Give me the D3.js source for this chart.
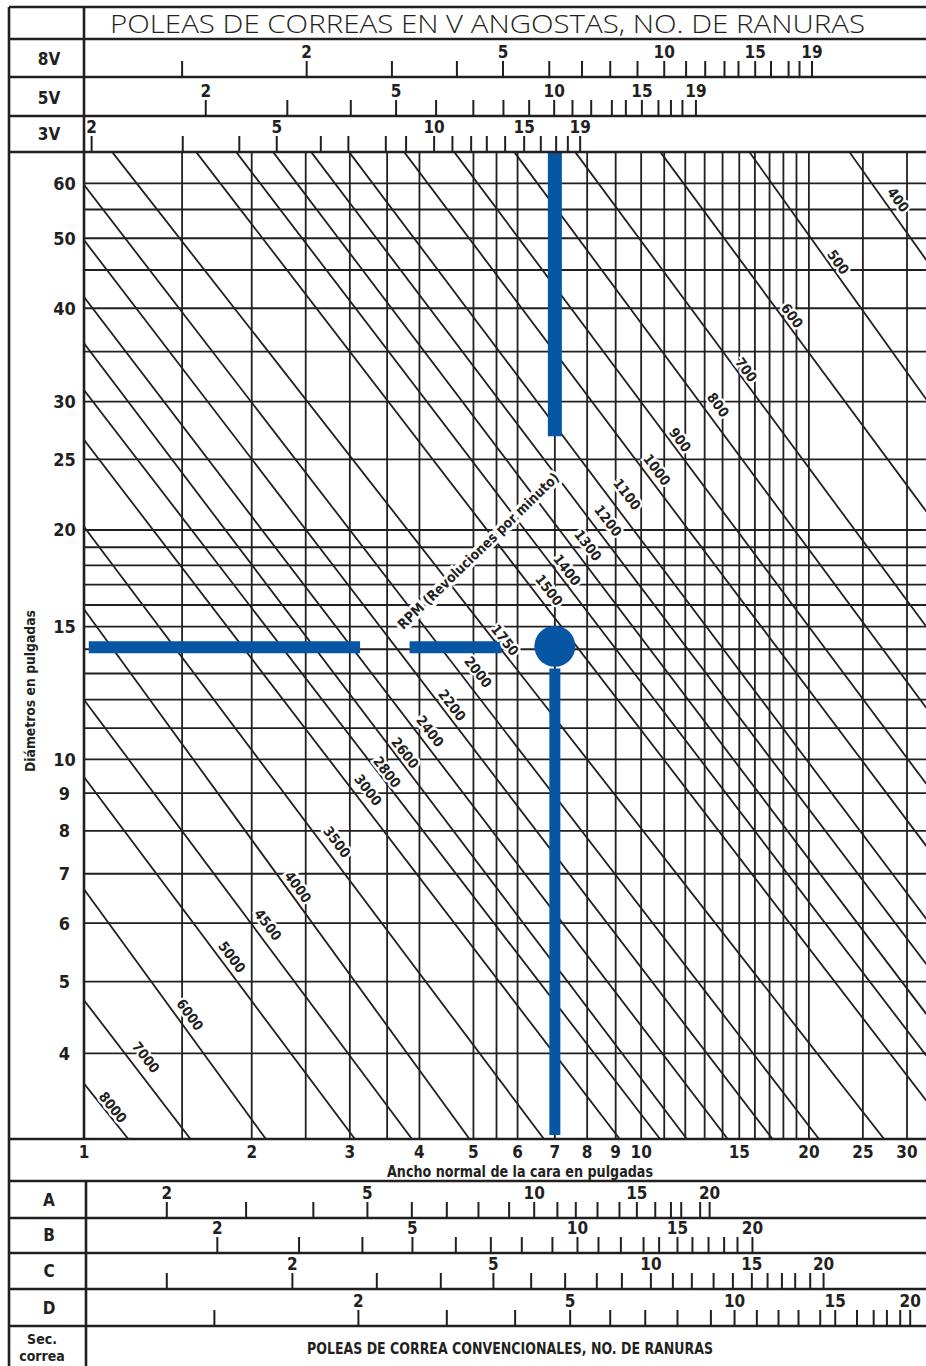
<!DOCTYPE html>
<html>
<head>
<meta charset="utf-8">
<title>Poleas de correas en V</title>
<script src="https://cdn.jsdelivr.net/npm/d3@7"></script>
<style>
  body { margin: 0; background: #fff; }
  svg text { font-family: "Liberation Sans Narrow", "DejaVu Sans Condensed", "Arial Narrow", sans-serif; font-weight: bold; fill: #231f20; }
</style>
</head>
<body>
<script>
// face width (in) along the bottom, pulley diameter (in) up the side
const widthLabels = [1, 2, 3, 4, 5, 6, 7, 8, 9, 10, 15, 20, 25, 30];
const widthGrid = [1, 1.5, 2, 2.5, 3, 3.5, 4, 5, 5.5, 6, 7, 8, 9, 10, 11, 12, 13, 14, 15, 16, 17, 18, 19, 20, 25, 30];
const diameterLabels = [60, 50, 40, 30, 25, 20, 15, 10, 9, 8, 7, 6, 5, 4];
const diameterGrid = [60, 55, 50, 45, 40, 35, 30, 25, 20, 19, 18, 17, 16, 15, 14, 13, 12, 11, 10, 9, 8, 7, 6, 5, 4];

// rpm lines: where each one enters and leaves the chart, [width, diameter]
const rpmValues = [8000, 7000, 6000, 5000, 4500, 4000, 3500, 3000, 2800, 2600, 2400, 2200, 2000,
                   1750, 1500, 1400, 1300, 1200, 1100, 1000, 900, 800, 700, 600, 500, 400];
const rpmStart = [[1, 3.64], [1, 4.72], [1, 6.67], [1, 9.46], [1, 12.0], [1, 15.8], [1, 20.2], [1, 26.6],
                  [1, 31.1], [1, 35.9], [1, 41.4], [1, 49.7], [1, 59.7],
                  [1.123, 66.6], [1.589, 66.6], [1.875, 66.6], [2.184, 66.6], [2.556, 66.6], [2.99, 66.6],
                  [3.754, 66.6], [4.617, 66.6], [5.916, 66.6], [7.612, 66.6], [10.82, 66.6], [15.63, 66.6], [23.63, 66.6]];
const rpmEnd = [[1.202, 3.06], [1.554, 3.06], [2.122, 3.06], [3.066, 3.06], [3.881, 3.06], [4.923, 3.06],
                [6.697, 3.06], [9.158, 3.06], [10.82, 3.06], [12.09, 3.06], [14.31, 3.06], [17.22, 3.06], [20.87, 3.06],
                [27.31, 3.06], [32.5, 3.45], [32.5, 3.97], [32.5, 4.52], [32.5, 5.28], [32.5, 6.08],
                [32.5, 7.63], [32.5, 9.26], [32.5, 11.7], [32.5, 15.0], [32.5, 21.2], [32.5, 30.2], [32.5, 46.5]];
// where each rpm number is written, [width, diameter]
const rpmLabelAt = [[1.127, 3.38], [1.292, 3.95], [1.55, 4.51], [1.844, 5.40], [2.14, 5.97], [2.422, 6.72],
                    [2.846, 7.73], [3.235, 9.09], [3.499, 9.61], [3.77, 10.2], [4.18, 10.9], [4.578, 11.8],
                    [5.098, 13.06], [5.70, 14.4], [6.836, 16.73], [7.364, 17.76], [8.031, 19.11], [8.726, 20.6],
                    [9.438, 22.4], [10.68, 24.2], [11.75, 26.6], [13.75, 29.7], [15.44, 33.1], [18.66, 39.1],
                    [22.58, 46.2], [28.93, 56.8]];
const rpmTitleAt = [5.1, 18.8];

// number of grooves -> face width (in)
const grooves8V = [1.50, 2.51, 3.57, 4.67, 5.65, 6.84, 7.83, 8.80, 9.85, 11.0, 12.04, 13.03, 14.11, 14.95, 16.02, 17.10, 18.39, 19.24, 20.26];
const grooves5V = [1.654, 2.317, 3.012, 3.632, 4.285, 4.998, 5.66, 6.295, 6.98, 7.529, 8.134, 8.86, 9.387, 10.03, 10.74, 11.31, 11.86, 12.54];
const grooves3V = [1.032, 1.504, 1.90, 2.218, 2.661, 2.982, 3.481, 3.785, 4.25, 4.584, 4.953, 5.284, 5.70, 6.166, 6.605, 7.037, 7.386, 7.771];
const groovesA = [1.408, 1.954, 2.58, 3.226, 3.876, 4.479, 5.105, 5.794, 6.427, 7.074, 7.633, 8.349, 9.142, 9.824, 10.60, 11.31, 11.80, 12.76, 13.27];
const groovesB = [1.735, 2.432, 3.16, 3.886, 4.649, 5.373, 6.106, 6.93, 7.686, 8.383, 9.196, 10.10, 10.77, 11.62, 12.36, 13.21, 14.09, 14.89, 15.84];
const groovesC = [1.408, 2.366, 3.354, 4.369, 5.43, 6.347, 7.304, 8.325, 9.235, 10.41, 11.40, 12.33, 13.49, 14.61, 15.80, 16.86, 17.89, 18.90, 20.11, 21.25];
const groovesD = [1.714, 3.108, 4.479, 5.94, 7.457, 8.799, 10.17, 11.62, 13.34, 14.71, 16.13, 17.64, 19.16, 20.96, 22.30, 24.40, 26.14, 27.61, 29.17, 30.40];
const narrowLabeled = [2, 5, 10, 15, 19];
const classicLabeled = [2, 5, 10, 15, 20];

// worked example, 7 in face and 14 in diameter
const exampleWidth = 7;
const exampleDiameter = 14;
const exampleVertical = [[66.6, 26.9], [13.2, 3.1]];
const exampleHorizontal = [[1.02, 3.13], [3.84, 5.62]];

let w = 926;
let h = 1366;
let ink = '#231f20';
let blue = '#0656a4';
let plot = { left: 84, right: 926, top: 152, bottom: 1139 };

let svg = d3.select('body')
            .append('svg')
            .attr('width', w)
            .attr('height', h)
            .style('background-color', '#ffffff');

let xScale = d3.scaleLog()
               .domain([1, 30])
               .range([84, 907]);

// the printed chart is not quite even, so the log scale is pieced together
let yScale = d3.scaleLog()
               .domain([60, 45, 30, 20, 15, 10, 4])
               .range([183.3, 270, 401.7, 530, 626.7, 759.3, 1053.3]);

svg.append('defs')
   .append('clipPath')
   .attr('id', 'plot-clip')
   .append('rect')
   .attr('x', plot.left)
   .attr('y', plot.top)
   .attr('width', plot.right - plot.left)
   .attr('height', plot.bottom - plot.top);

let chart = svg.append('g').attr('clip-path', 'url(#plot-clip)');

// grid
chart.selectAll('.hgrid')
     .data(diameterGrid)
     .enter()
     .append('line')
     .attr('class', 'hgrid')
     .attr('x1', plot.left)
     .attr('x2', plot.right)
     .attr('y1', d => yScale(d))
     .attr('y2', d => yScale(d))
     .attr('stroke', ink)
     .attr('stroke-width', 1.8);

chart.selectAll('.vgrid')
     .data(widthGrid)
     .enter()
     .append('line')
     .attr('class', 'vgrid')
     .attr('x1', d => xScale(d))
     .attr('x2', d => xScale(d))
     .attr('y1', plot.top)
     .attr('y2', plot.bottom)
     .attr('stroke', ink)
     .attr('stroke-width', 1.8);

// rpm lines
let rpmLines = rpmValues.map((r, i) => ({ rpm: r, a: rpmStart[i], b: rpmEnd[i], at: rpmLabelAt[i] }));

chart.selectAll('.rpm')
     .data(rpmLines)
     .enter()
     .append('line')
     .attr('class', 'rpm')
     .attr('x1', d => xScale(d.a[0]))
     .attr('y1', d => yScale(d.a[1]))
     .attr('x2', d => xScale(d.b[0]))
     .attr('y2', d => yScale(d.b[1]))
     .attr('stroke', ink)
     .attr('stroke-width', 1.8);

// example bars
chart.selectAll('.exv')
     .data(exampleVertical)
     .enter()
     .append('line')
     .attr('class', 'exv')
     .attr('x1', xScale(exampleWidth))
     .attr('x2', xScale(exampleWidth))
     .attr('y1', d => yScale(d[0]))
     .attr('y2', d => yScale(d[1]))
     .attr('stroke', blue)
     .attr('stroke-width', (d, i) => i == 0 ? 14 : 11);

chart.selectAll('.exh')
     .data(exampleHorizontal)
     .enter()
     .append('line')
     .attr('class', 'exh')
     .attr('x1', d => xScale(d[0]))
     .attr('x2', d => xScale(d[1]))
     .attr('y1', yScale(exampleDiameter) - 2)
     .attr('y2', yScale(exampleDiameter) - 2)
     .attr('stroke', blue)
     .attr('stroke-width', 12);

// rpm numbers, turned along their own line
chart.selectAll('.rpm-label')
     .data(rpmLines)
     .enter()
     .append('text')
     .attr('class', 'rpm-label')
     .attr('transform', d => {
        let ang = Math.atan2(yScale(d.b[1]) - yScale(d.a[1]), xScale(d.b[0]) - xScale(d.a[0])) * 180 / Math.PI;
        return 'translate(' + xScale(d.at[0]) + ',' + yScale(d.at[1]) + ') rotate(' + ang + ')';
     })
     .attr('text-anchor', 'middle')
     .attr('dy', '0.36em')
     .style('font-size', '14px')
     .attr('stroke', '#ffffff')
     .attr('stroke-width', 4.5)
     .attr('paint-order', 'stroke')
     .text(d => d.rpm);

chart.append('text')
     .attr('transform', 'translate(' + xScale(rpmTitleAt[0]) + ',' + yScale(rpmTitleAt[1]) + ') rotate(-44)')
     .attr('text-anchor', 'middle')
     .attr('dy', '0.36em')
     .attr('textLength', 218)
     .attr('lengthAdjust', 'spacingAndGlyphs')
     .style('font-size', '14px')
     .attr('stroke', '#ffffff')
     .attr('stroke-width', 6)
     .attr('paint-order', 'stroke')
     .text('RPM (Revoluciones por minuto)');

chart.append('circle')
     .attr('cx', xScale(exampleWidth))
     .attr('cy', yScale(exampleDiameter) - 3)
     .attr('r', 20.5)
     .attr('fill', blue);

// frame and table rules
let frame = svg.append('g').attr('stroke', ink).attr('stroke-width', 2.6);
[7, 39, 77, 116, 152, 1139, 1181, 1218, 1253, 1289, 1326].forEach(yy => {
  frame.append('line').attr('x1', 9).attr('x2', w).attr('y1', yy).attr('y2', yy);
});
frame.append('line').attr('x1', 9).attr('x2', 9).attr('y1', 7).attr('y2', h);
frame.append('line').attr('x1', 84).attr('x2', 84).attr('y1', 7).attr('y2', 1139);
frame.append('line').attr('x1', 86).attr('x2', 86).attr('y1', 1181).attr('y2', h);

// title
svg.append('text')
   .attr('x', 110)
   .attr('y', 33)
   .attr('textLength', 755)
   .attr('lengthAdjust', 'spacingAndGlyphs')
   .style('font-family', '"Open Sans", "Liberation Sans", sans-serif')
   .style('font-weight', '300')
   .style('font-size', '25px')
   .text('POLEAS DE CORREAS EN V ANGOSTAS, NO. DE RANURAS');

// groove scales
let grooveRows = [
  { name: '8V', widths: grooves8V, first: 1, labeled: narrowLabeled, bottom: 77 },
  { name: '5V', widths: grooves5V, first: 2, labeled: narrowLabeled, bottom: 116 },
  { name: '3V', widths: grooves3V, first: 2, labeled: narrowLabeled, bottom: 152 },
  { name: 'A', widths: groovesA, first: 2, labeled: classicLabeled, bottom: 1218 },
  { name: 'B', widths: groovesB, first: 2, labeled: classicLabeled, bottom: 1253 },
  { name: 'C', widths: groovesC, first: 1, labeled: classicLabeled, bottom: 1289 },
  { name: 'D', widths: groovesD, first: 1, labeled: classicLabeled, bottom: 1326 }
];

grooveRows.forEach(row => {
  let g = svg.append('g');
  let ticks = row.widths.map((wd, i) => ({ n: row.first + i, w: wd }));

  g.selectAll('line')
   .data(ticks)
   .enter()
   .append('line')
   .attr('x1', d => xScale(d.w))
   .attr('x2', d => xScale(d.w))
   .attr('y1', row.bottom - 16)
   .attr('y2', row.bottom)
   .attr('stroke', ink)
   .attr('stroke-width', 2);

  g.selectAll('text')
   .data(ticks.filter(d => row.labeled.includes(d.n)))
   .enter()
   .append('text')
   .attr('x', d => xScale(d.w))
   .attr('y', row.bottom - 19.5)
   .attr('text-anchor', 'middle')
   .style('font-size', '17px')
   .text(d => d.n);

  svg.append('text')
     .attr('x', 49)
     .attr('y', row.bottom - 12)
     .attr('text-anchor', 'middle')
     .style('font-size', '17px')
     .text(row.name);
});

// axis numbers
svg.selectAll('.xlab')
   .data(widthLabels)
   .enter()
   .append('text')
   .attr('class', 'xlab')
   .attr('x', d => xScale(d))
   .attr('y', 1158)
   .attr('text-anchor', 'middle')
   .style('font-size', '17px')
   .text(d => d);

svg.selectAll('.ylab')
   .data(diameterLabels)
   .enter()
   .append('text')
   .attr('class', 'ylab')
   .attr('x', 64.5)
   .attr('y', d => yScale(d))
   .attr('dy', '0.36em')
   .attr('text-anchor', 'middle')
   .style('font-size', '18px')
   .text(d => d);

svg.append('text')
   .attr('x', 387)
   .attr('y', 1177)
   .attr('textLength', 266)
   .attr('lengthAdjust', 'spacingAndGlyphs')
   .style('font-size', '15px')
   .text('Ancho normal de la cara en pulgadas');

svg.append('text')
   .attr('transform', 'translate(35,691) rotate(-90)')
   .attr('text-anchor', 'middle')
   .attr('textLength', 162)
   .attr('lengthAdjust', 'spacingAndGlyphs')
   .style('font-size', '14px')
   .text('Diámetros en pulgadas');

svg.append('text')
   .attr('x', 307)
   .attr('y', 1354)
   .attr('textLength', 406)
   .attr('lengthAdjust', 'spacingAndGlyphs')
   .style('font-size', '16px')
   .text('POLEAS DE CORREA CONVENCIONALES, NO. DE RANURAS');

svg.append('text')
   .attr('x', 42)
   .attr('y', 1344)
   .attr('text-anchor', 'middle')
   .style('font-size', '14px')
   .text('Sec.');

svg.append('text')
   .attr('x', 42)
   .attr('y', 1361)
   .attr('text-anchor', 'middle')
   .style('font-size', '14px')
   .text('correa');
</script>
</body>
</html>
